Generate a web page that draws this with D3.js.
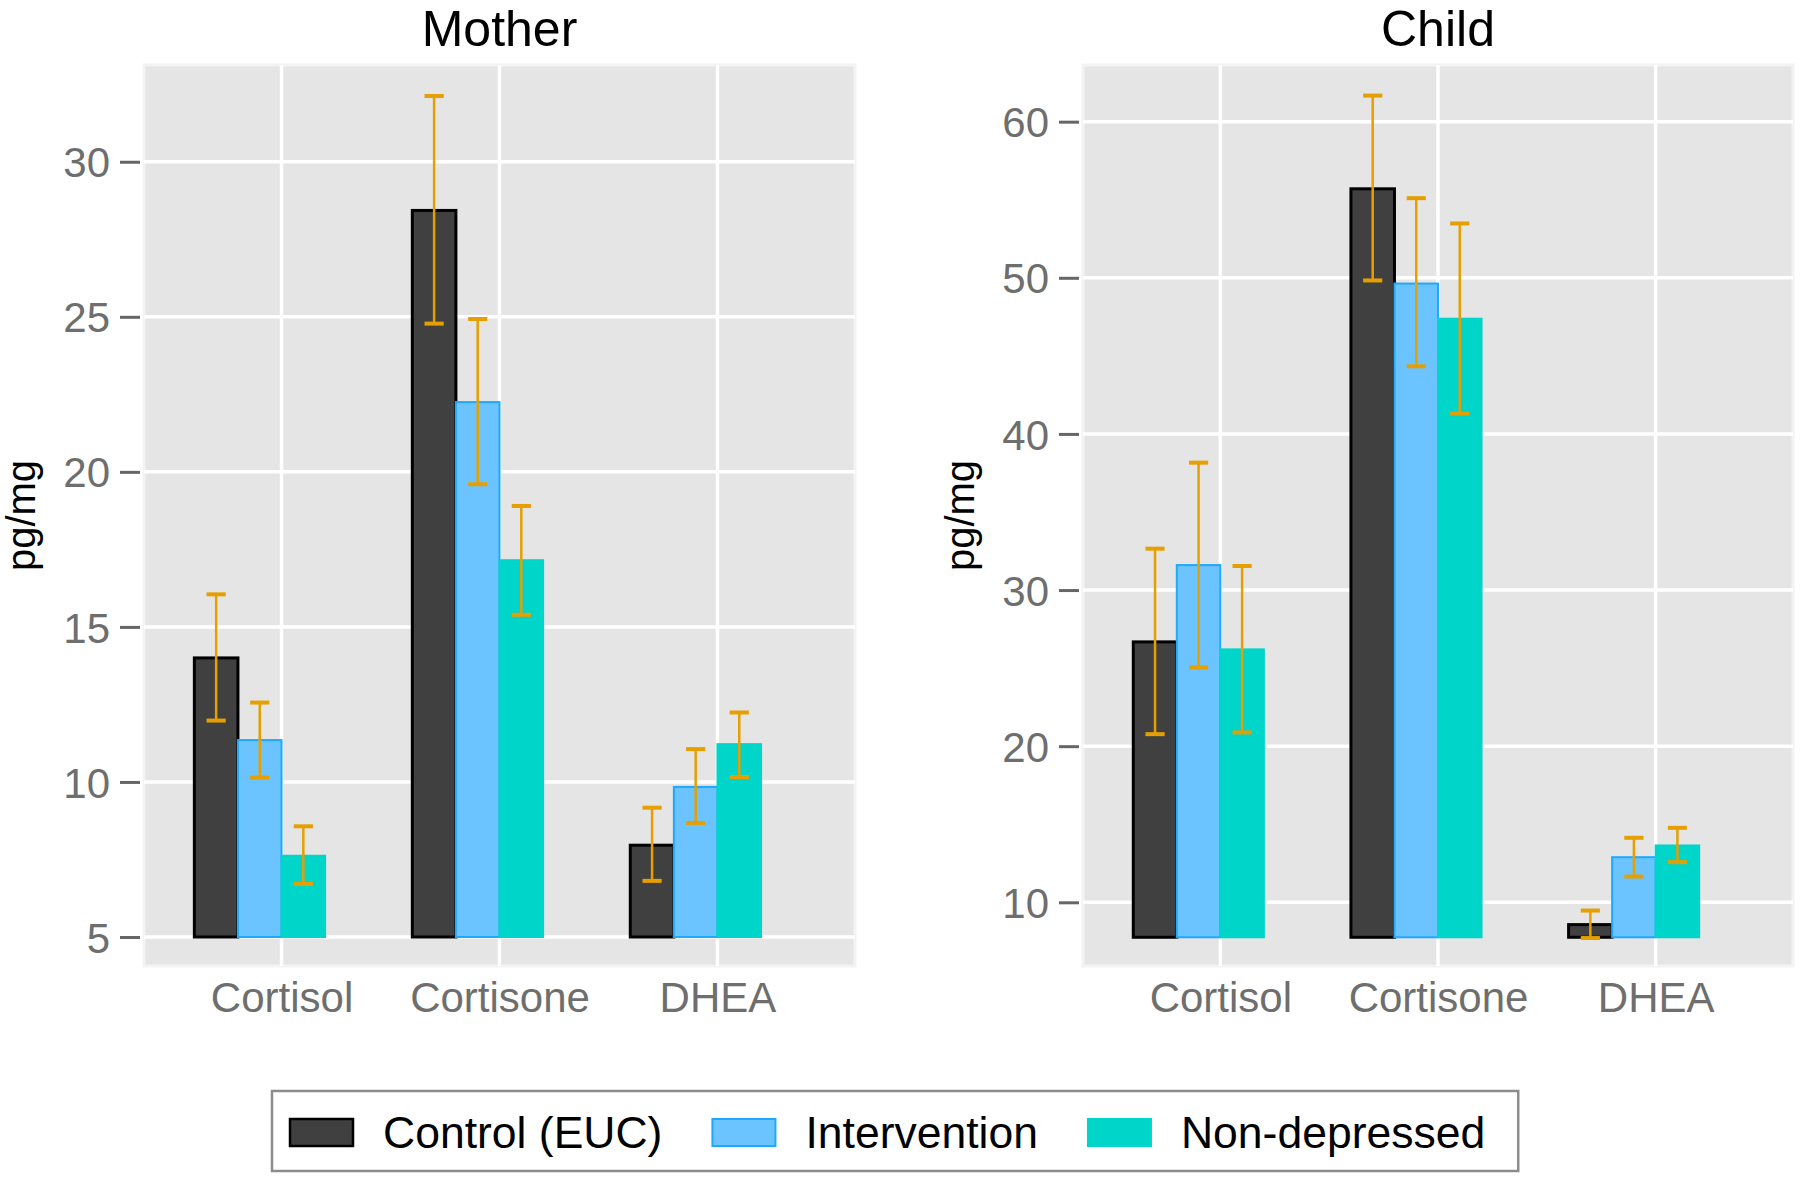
<!DOCTYPE html>
<html>
<head>
<meta charset="utf-8">
<script src="https://cdn.jsdelivr.net/npm/d3@7"></script>
<style>
  body { margin: 0; background: #fff; }
  svg { display: block; font-family: "Liberation Sans", Arial, Helvetica, sans-serif; }
</style>
</head>
<body>
<script>
// categories and groups
var categories = ['Cortisol', 'Cortisone', 'DHEA'];
var groups = ['Control (EUC)', 'Intervention', 'Non-depressed'];

// mother: one row per group, values in category order
var motherMeans = [[14.0, 28.43, 7.96], [11.35, 22.25, 9.84], [7.62, 17.15, 11.22]];
var motherLower = [[11.98, 24.78, 6.81], [10.14, 19.6, 8.68], [6.71, 15.39, 10.16]];
var motherUpper = [[16.05, 32.12, 9.17], [12.56, 24.93, 11.06], [8.57, 18.9, 12.24]];

// child
var childMeans = [[26.68, 55.7, 8.57], [31.6, 49.63, 12.89], [26.2, 47.38, 13.64]];
var childLower = [[20.77, 49.83, 7.71], [25.04, 44.33, 11.65], [20.88, 41.3, 12.57]];
var childUpper = [[32.65, 61.67, 9.47], [38.16, 55.1, 14.13], [31.54, 53.48, 14.77]];

// axis ticks, bar base and axis range
var motherTicks = [5, 10, 15, 20, 25, 30];
var childTicks = [10, 20, 30, 40, 50, 60];
var motherBase = 5;
var childBase = 7.76;
var motherDomain = [4.065, 33.12];
var childDomain = [5.92, 63.63];

var fills = ['#404040', '#6BC4FF', '#00D5C9'];
var strokes = ['#000000', '#1EA9FF', '#00D5C9'];
var errColor = '#E69F00';

var W = 1800, H = 1177;
var svg = d3.select('body').append('svg')
    .attr('width', W)
    .attr('height', H);

function drawPanel(p) {
  var g = svg.append('g');

  var x = d3.scalePoint()
      .domain(categories)
      .range([p.left, p.right])
      .padding(0.631);
  var step = x.step();
  var bw = 0.2 * step;
  // four dodge slots, the last one empty
  var inner = d3.scaleBand()
      .domain(groups.concat(['_']))
      .range([-2 * bw, 2 * bw]);
  var y = d3.scaleLinear()
      .domain(p.domain)
      .range([p.bottom, p.top]);

  // panel background
  g.append('rect')
    .attr('x', p.left).attr('y', p.top)
    .attr('width', p.right - p.left).attr('height', p.bottom - p.top)
    .attr('fill', '#E5E5E5')
    .attr('stroke', '#F3F3F3')
    .attr('stroke-width', 3);

  // grid
  g.selectAll('.hgrid').data(p.ticks).enter().append('line')
    .attr('x1', p.left).attr('x2', p.right)
    .attr('y1', function(d) { return y(d); })
    .attr('y2', function(d) { return y(d); })
    .attr('stroke', '#fff').attr('stroke-width', 3.5);
  g.selectAll('.vgrid').data(categories).enter().append('line')
    .attr('y1', p.top).attr('y2', p.bottom)
    .attr('x1', function(d) { return x(d); })
    .attr('x2', function(d) { return x(d); })
    .attr('stroke', '#fff').attr('stroke-width', 3.5);

  // bars
  var rows = [];
  groups.forEach(function(gr, gi) {
    categories.forEach(function(c, ci) {
      rows.push({ group: gr, gi: gi, cat: c,
        mean: p.means[gi][ci], lo: p.lower[gi][ci], hi: p.upper[gi][ci] });
    });
  });

  g.selectAll('.bar').data(rows).enter().append('rect')
    .attr('x', function(d) { return x(d.cat) + inner(d.group); })
    .attr('y', function(d) { return y(d.mean); })
    .attr('width', inner.bandwidth())
    .attr('height', function(d) { return y(p.base) - y(d.mean); })
    .attr('fill', function(d) { return fills[d.gi]; })
    .attr('stroke', function(d) { return strokes[d.gi]; })
    .attr('stroke-width', function(d) { return d.gi === 0 ? 3 : 2; });

  // error bars
  var cap = 0.44 * bw / 2;
  var eb = g.selectAll('.err').data(rows).enter().append('g')
    .attr('transform', function(d) {
      return 'translate(' + (x(d.cat) + inner(d.group) + bw / 2) + ',0)';
    })
    .attr('stroke', errColor);
  eb.append('line')
    .attr('x1', 0).attr('x2', 0)
    .attr('y1', function(d) { return y(d.lo); })
    .attr('y2', function(d) { return y(d.hi); })
    .attr('stroke-width', 2.5);
  eb.append('line')
    .attr('x1', -cap).attr('x2', cap)
    .attr('y1', function(d) { return y(d.hi); })
    .attr('y2', function(d) { return y(d.hi); })
    .attr('stroke-width', 4);
  eb.append('line')
    .attr('x1', -cap).attr('x2', cap)
    .attr('y1', function(d) { return y(d.lo); })
    .attr('y2', function(d) { return y(d.lo); })
    .attr('stroke-width', 4);

  // y axis
  var ya = g.append('g')
    .attr('transform', 'translate(' + (p.left - 4) + ',0)')
    .call(d3.axisLeft(y).tickValues(p.ticks).tickSize(20).tickPadding(10));
  ya.select('.domain').remove();
  ya.selectAll('line').attr('stroke', '#666').attr('stroke-width', 3);
  ya.selectAll('text')
    .attr('fill', '#6E6E6E')
    .style('font-size', '42px')
    .attr('dy', '0.36em');

  // x axis
  var xa = g.append('g')
    .attr('transform', 'translate(0,' + p.bottom + ')')
    .call(d3.axisBottom(x).tickSize(0).tickPadding(16));
  xa.select('.domain').remove();
  xa.selectAll('text')
    .attr('fill', '#6E6E6E')
    .style('font-size', '42px');

  // title
  g.append('text')
    .attr('x', (p.left + p.right) / 2)
    .attr('y', 46)
    .attr('text-anchor', 'middle')
    .style('font-size', '50px')
    .attr('fill', '#000')
    .text(p.title);

  // y label
  g.append('text')
    .attr('transform', 'translate(' + (p.left - 109) + ',' + ((p.top + p.bottom) / 2) + ') rotate(-90)')
    .attr('text-anchor', 'middle')
    .style('font-size', '40px')
    .attr('fill', '#000')
    .text('pg/mg');
}

drawPanel({ title: 'Mother', left: 144, right: 855, top: 65, bottom: 966,
  domain: motherDomain, ticks: motherTicks, base: motherBase,
  means: motherMeans, lower: motherLower, upper: motherUpper });
drawPanel({ title: 'Child', left: 1083, right: 1793, top: 65, bottom: 966,
  domain: childDomain, ticks: childTicks, base: childBase,
  means: childMeans, lower: childLower, upper: childUpper });

// legend
var leg = svg.append('g');
var box = leg.append('rect')
  .attr('fill', '#fff')
  .attr('stroke', '#8C8C8C')
  .attr('stroke-width', 2.5);
var items = leg.append('g');
var cx = 0;
groups.forEach(function(gr, i) {
  var it = items.append('g').attr('transform', 'translate(' + cx + ',0)');
  it.append('rect')
    .attr('x', 0).attr('y', -13)
    .attr('width', 63).attr('height', 27)
    .attr('fill', fills[i])
    .attr('stroke', strokes[i])
    .attr('stroke-width', i === 0 ? 2.5 : 2);
  var t = it.append('text')
    .attr('x', 93).attr('y', 0)
    .attr('dy', '0.36em')
    .style('font-size', '44.5px')
    .attr('fill', '#000')
    .text(gr);
  cx += 93 + t.node().getComputedTextLength() + 50;
});
var legW = cx - 50 + 18 + 33;
var legX = 272;
items.attr('transform', 'translate(' + (legX + 18) + ',1132)');
box.attr('x', legX).attr('y', 1091).attr('width', legW).attr('height', 80);
</script>
</body>
</html>
